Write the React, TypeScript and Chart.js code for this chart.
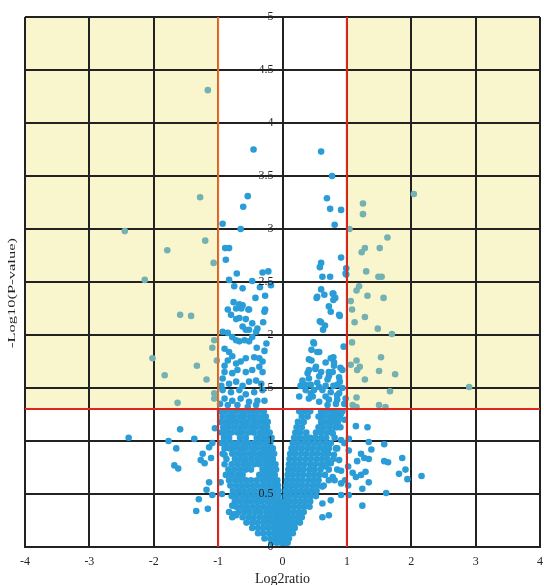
import React, { useEffect, useRef } from "react";
import { Chart, registerables } from "chart.js";

Chart.register(...registerables);

// ---- axis ticks / labels ----
const xTickValues = [-4, -3, -2, -1, 0, 1, 2, 3, 4];
const yTickValues = [0, 0.5, 1, 1.5, 2, 2.5, 3, 3.5, 4, 4.5, 5];
const xTitle = "Log2ratio";
const yTitle = "-Log10(P-value)";
const yLabelAnchor = -0.14; // y tick labels end just left of the x = 0 line

// ---- thresholds ----
const foldCutoffs = [-1, 1];
const pCutoff = 1.301;

// ---- significant genes (shaded zones) ----
const sigLeft: [number, number][] = [
  [-1.16, 4.31], [-1.28, 3.3], [-2.45, 2.98], [-1.2, 2.89], [-1.79, 2.8], [-1.07, 2.68],
  [-2.14, 2.52], [-1.59, 2.19], [-1.42, 2.18], [-1.06, 1.95], [-1.09, 1.88], [-2.02, 1.78],
  [-1.02, 1.76], [-1.33, 1.71], [-1.83, 1.62], [-1.18, 1.58], [-1.06, 1.45], [-1.06, 1.4],
  [-1.63, 1.36],
];
const sigRight: [number, number][] = [
  [2.04, 3.33], [1.25, 3.24], [1.25, 3.14], [1.04, 3.0], [1.63, 2.92], [1.28, 2.82],
  [1.51, 2.82], [1.23, 2.78], [1.3, 2.6], [1.49, 2.55], [1.54, 2.55], [1.19, 2.46],
  [1.15, 2.42], [1.32, 2.37], [1.57, 2.35], [1.06, 2.32], [1.08, 2.24], [1.28, 2.17],
  [1.12, 2.12], [1.48, 2.06], [1.7, 2.01], [1.08, 1.93], [1.53, 1.79], [1.15, 1.76],
  [1.06, 1.72], [1.2, 1.7], [1.16, 1.67], [1.5, 1.66], [1.75, 1.63], [1.28, 1.58],
  [2.9, 1.51], [1.67, 1.47], [1.15, 1.41], [1.09, 1.34], [1.5, 1.34], [1.6, 1.32],
  [1.15, 1.32],
];

// ---- non-significant genes, upper part ----
const upperLeft: [number, number][] = [
  [-0.45, 3.75], [-0.54, 3.31], [-0.61, 3.21], [-0.93, 3.05], [-0.65, 3.0], [-0.89, 2.82],
  [-0.83, 2.82], [-0.88, 2.71], [-0.71, 2.58], [-0.31, 2.59], [-0.83, 2.52], [-0.75, 2.46],
  [-0.62, 2.44], [-0.47, 2.51], [-0.18, 2.47], [-0.27, 2.37], [-0.76, 2.31], [-0.67, 2.29],
  [-0.85, 2.24], [-0.53, 2.24], [-0.27, 2.24], [-0.72, 2.15], [-0.57, 2.15], [-0.57, 2.05],
  [-0.62, 2.28], [-0.64, 2.25], [-0.72, 2.25], [-0.52, 2.24], [-0.28, 2.22], [-0.8, 2.19],
  [-0.67, 2.16], [-0.47, 2.11], [-0.62, 2.08], [-0.52, 2.05], [-0.41, 2.03], [-0.39, 2.06],
  [-0.93, 2.03], [-0.85, 2.02], [-0.78, 1.98], [-0.72, 1.95], [-0.67, 1.94], [-0.59, 1.95],
  [-0.52, 1.94], [-0.47, 1.98], [-0.9, 1.87], [-0.83, 1.84], [-0.78, 1.8], [-0.85, 1.76],
  [-0.9, 1.71], [-0.72, 1.73], [-0.65, 1.75], [-0.57, 1.78], [-0.44, 1.79], [-0.36, 1.78],
  [-0.31, 1.75], [-0.36, 1.7], [-0.31, 1.65], [-0.47, 1.67], [-0.57, 1.65], [-0.7, 1.67],
  [-0.78, 1.64], [-0.9, 1.65], [-0.93, 1.59], [-0.83, 1.54], [-0.72, 1.56], [-0.62, 1.52],
  [-0.52, 1.56], [-0.41, 1.57], [-0.33, 1.54], [-0.93, 1.48], [-0.8, 1.46], [-0.67, 1.48],
  [-0.57, 1.44], [-0.44, 1.46], [-0.31, 1.48], [-0.9, 1.4], [-0.78, 1.38], [-0.65, 1.4],
  [-0.52, 1.37], [-0.39, 1.38], [-0.28, 1.38], [-0.85, 1.34], [-0.7, 1.34], [-0.54, 1.32],
  [-0.41, 1.34], [-0.22, 2.6], [-0.35, 2.45], [-0.42, 2.35], [-0.3, 2.12], [-0.25, 1.92],
  [-0.4, 1.88], [-0.28, 1.85], [-0.95, 1.52], [-0.97, 1.35],
];
const upperRight: [number, number][] = [
  [0.6, 3.73], [0.77, 3.5], [0.69, 3.29], [0.74, 3.19], [0.91, 3.18], [0.81, 3.04],
  [0.91, 2.73], [0.6, 2.68], [0.58, 2.64], [0.99, 2.63], [0.99, 2.57], [0.62, 2.55],
  [0.74, 2.55], [0.6, 2.43], [0.98, 2.58], [0.53, 2.35], [0.79, 2.39], [0.82, 2.35],
  [0.79, 2.33], [0.72, 2.27], [0.75, 2.22], [0.89, 2.18], [0.58, 2.13], [0.66, 2.09],
  [0.63, 2.05], [0.48, 1.93], [0.45, 1.86], [0.57, 1.84], [0.95, 1.89], [0.41, 1.77],
  [0.45, 1.76], [0.79, 1.79], [0.8, 1.74], [0.9, 1.69], [0.93, 1.67], [0.51, 1.68],
  [0.6, 1.65], [0.72, 1.65], [0.72, 1.61], [0.39, 1.64], [0.41, 1.59], [0.31, 1.54],
  [0.28, 1.52], [0.36, 1.53], [0.57, 1.51], [0.79, 1.52], [0.89, 1.56], [0.93, 1.5],
  [0.44, 1.45], [0.47, 1.42], [0.67, 1.42], [0.85, 1.43], [0.57, 1.37], [0.7, 1.34],
  [0.83, 1.35], [0.96, 1.35], [0.54, 2.36], [0.65, 2.38], [0.78, 2.39], [0.88, 2.19],
  [0.6, 2.12], [0.49, 1.92], [0.54, 1.84], [0.67, 1.74], [0.52, 1.7], [0.41, 1.67],
  [0.75, 1.78], [0.8, 1.71], [0.78, 1.65], [0.88, 1.6], [0.57, 1.61], [0.7, 1.58],
  [0.31, 1.57], [0.44, 1.53], [0.54, 1.55], [0.67, 1.52], [0.85, 1.53], [0.36, 1.48],
  [0.49, 1.48], [0.62, 1.48], [0.75, 1.46], [0.88, 1.45], [0.26, 1.42], [0.41, 1.4],
  [0.72, 1.39], [0.85, 1.39], [0.98, 1.4],
];

// ---- dense core (rows: y, list of x) ----
const leftArmRows: [number, number[]][] = [
  [1.28, [-0.97, -0.89, -0.8, -0.72, -0.63, -0.55, -0.46, -0.38, -0.29]],
  [1.23, [-0.93, -0.84, -0.76, -0.67, -0.59, -0.5, -0.42, -0.33, -0.26]],
  [1.18, [-0.97, -0.88, -0.8, -0.71, -0.62, -0.54, -0.45, -0.37, -0.29, -0.23]],
  [1.13, [-0.92, -0.84, -0.75, -0.66, -0.58, -0.49, -0.41, -0.32, -0.24]],
  [1.08, [-0.95, -0.87, -0.79, -0.7, -0.62, -0.53, -0.45, -0.36, -0.28, -0.2]],
  [1.03, [-0.91, -0.83, -0.66, -0.57, -0.4, -0.32, -0.24, -0.17]],
  [0.98, [-0.95, -0.87, -0.78, -0.7, -0.61, -0.53, -0.44, -0.36, -0.27, -0.19]],
  [0.93, [-0.9, -0.82, -0.74, -0.65, -0.57, -0.48, -0.4, -0.31, -0.23, -0.15]],
  [0.88, [-0.93, -0.78, -0.69, -0.61, -0.52, -0.44, -0.35, -0.27, -0.19, -0.13]],
  [0.83, [-0.87, -0.74, -0.65, -0.57, -0.48, -0.39, -0.31, -0.23, -0.15]],
  [0.78, [-0.9, -0.79, -0.7, -0.61, -0.53, -0.44, -0.36, -0.27, -0.19, -0.11]],
  [0.73, [-0.84, -0.75, -0.66, -0.57, -0.49, -0.31, -0.23, -0.15, -0.1]],
  [0.68, [-0.88, -0.79, -0.7, -0.62, -0.36, -0.27, -0.19, -0.12]],
  [0.63, [-0.83, -0.74, -0.66, -0.57, -0.49, -0.4, -0.31, -0.23, -0.15, -0.08]],
  [0.58, [-0.81, -0.72, -0.63, -0.55, -0.46, -0.38, -0.29, -0.21, -0.13, -0.07]],
  [0.53, [-0.77, -0.68, -0.6, -0.51, -0.43, -0.34, -0.26, -0.18, -0.11, -0.06]],
  [0.48, [-0.79, -0.71, -0.62, -0.54, -0.45, -0.37, -0.28, -0.2, -0.13, -0.06]],
  [0.43, [-0.74, -0.66, -0.57, -0.49, -0.4, -0.32, -0.23, -0.15, -0.08, -0.04]],
  [0.38, [-0.72, -0.63, -0.55, -0.46, -0.38, -0.29, -0.21, -0.13, -0.07, -0.03]],
  [0.33, [-0.68, -0.59, -0.51, -0.42, -0.34, -0.25, -0.17, -0.1, -0.04]],
  [0.28, [-0.62, -0.53, -0.45, -0.36, -0.28, -0.2, -0.12, -0.06, -0.02]],
  [0.23, [-0.56, -0.47, -0.39, -0.3, -0.22, -0.14, -0.07, -0.02]],
  [0.18, [-0.47, -0.38, -0.3, -0.22, -0.14, -0.07, -0.02]],
  [0.13, [-0.38, -0.3, -0.21, -0.13, -0.06, -0.01]],
  [0.08, [-0.28, -0.19, -0.11, -0.04, 0.0]],
  [0.04, [-0.17, -0.09, -0.02, 0.03]],
];
const rightArmRows: [number, number[]][] = [
  [1.28, [0.26, 0.34, 0.43, 0.6, 0.68, 0.77, 0.85, 0.93]],
  [1.23, [0.3, 0.39, 0.56, 0.64, 0.73, 0.81, 0.89]],
  [1.18, [0.24, 0.33, 0.6, 0.69, 0.77, 0.86]],
  [1.13, [0.22, 0.3, 0.56, 0.64, 0.73, 0.82, 0.9]],
  [1.08, [0.2, 0.28, 0.37, 0.52, 0.6, 0.69, 0.77]],
  [1.03, [0.18, 0.26, 0.35, 0.43, 0.51, 0.6, 0.68, 0.81]],
  [0.98, [0.16, 0.24, 0.33, 0.41, 0.5, 0.58, 0.67, 0.75]],
  [0.93, [0.14, 0.22, 0.3, 0.39, 0.47, 0.56, 0.64, 0.72, 0.83]],
  [0.88, [0.12, 0.2, 0.29, 0.37, 0.46, 0.54, 0.63, 0.71]],
  [0.83, [0.11, 0.19, 0.27, 0.36, 0.44, 0.53, 0.61, 0.69, 0.79]],
  [0.78, [0.1, 0.18, 0.26, 0.34, 0.43, 0.51, 0.6, 0.68]],
  [0.73, [0.09, 0.17, 0.25, 0.33, 0.42, 0.5, 0.59, 0.72, 0.85]],
  [0.68, [0.08, 0.16, 0.24, 0.32, 0.41, 0.49, 0.57, 0.66]],
  [0.63, [0.07, 0.15, 0.23, 0.31, 0.4, 0.48, 0.56, 0.81, 0.97]],
  [0.58, [0.06, 0.14, 0.22, 0.3, 0.38, 0.47, 0.55, 0.64]],
  [0.53, [0.05, 0.13, 0.21, 0.29, 0.37, 0.45, 0.53]],
  [0.48, [0.05, 0.12, 0.2, 0.28, 0.36, 0.44, 0.52]],
  [0.43, [0.04, 0.11, 0.19, 0.27, 0.35, 0.43]],
  [0.38, [0.04, 0.1, 0.18, 0.26, 0.34, 0.42]],
  [0.33, [0.03, 0.09, 0.17, 0.25, 0.33]],
  [0.28, [0.03, 0.08, 0.15, 0.23, 0.3]],
  [0.23, [0.03, 0.07, 0.14, 0.21, 0.27]],
  [0.18, [0.02, 0.06, 0.12, 0.19]],
  [0.13, [0.02, 0.05, 0.11, 0.16]],
  [0.08, [0.02, 0.05, 0.1]],
  [0.04, [0.04, 0.08]],
];

// ---- scattered genes below the p cutoff ----
const lowerScatter: [number, number][] = [
  [0.91, 1.26], [0.96, 1.2], [0.85, 1.13], [0.78, 1.07], [0.91, 1.01], [0.96, 0.98],
  [0.72, 0.96], [0.85, 0.93], [0.7, 0.9], [0.8, 0.87], [0.88, 0.82], [0.75, 0.79],
  [0.91, 0.72], [0.67, 0.76], [0.78, 0.66], [0.91, 0.6], [0.72, 0.63], [0.62, 0.57],
  [0.91, 0.49], [0.75, 0.44], [0.62, 0.41], [0.72, 0.3], [0.62, 0.28],
  [-0.9, 0.87], [-0.83, 0.69], [-0.96, 0.61], [-0.94, 0.5], [-0.78, 0.39], [-0.83, 0.33],
  [-0.72, 0.3], [-0.78, 0.28], [-0.75, 0.31],
];
const outlierLeft: [number, number][] = [
  [-2.39, 1.03], [-1.59, 1.11], [-1.77, 1.0], [-1.65, 0.93], [-1.37, 1.02], [-1.68, 0.77],
  [-1.62, 0.74], [-1.24, 0.88], [-1.27, 0.82], [-1.21, 0.79], [-1.11, 0.84], [-1.14, 0.94],
  [-1.14, 0.61], [-1.18, 0.54], [-1.09, 0.49], [-1.3, 0.45], [-1.34, 0.34], [-1.16, 0.36],
  [-1.09, 0.98], [-1.05, 1.12],
];
const outlierRight: [number, number][] = [
  [1.14, 1.14], [1.32, 1.13], [1.34, 0.99], [1.58, 0.97], [1.38, 0.92], [1.03, 0.91],
  [1.22, 0.88], [1.27, 0.84], [1.34, 0.83], [1.16, 0.81], [1.58, 0.81], [1.64, 0.8],
  [1.86, 0.84], [1.91, 0.73], [1.81, 0.69], [1.94, 0.64], [2.16, 0.67], [1.09, 0.7],
  [1.14, 0.66], [1.22, 0.68], [1.29, 0.71], [1.34, 0.61], [1.02, 0.58], [1.03, 0.49],
  [1.24, 0.55], [1.61, 0.51], [1.24, 0.39], [1.03, 1.02], [1.02, 0.76],
];

// ---- styling ----
const BLUE = "#2a9dd8";
const TEAL = "#74b1b3";
const YELLOW = "#f9f6cd";
const GRID = "#222222";
const RED = "#e2261d";
const ORANGE = "#e8702a";
const FONT = '"Liberation Serif", "Times New Roman", serif';

const toPts = (arr: [number, number][]) => arr.map(([x, y]) => ({ x, y }));
const rowsToPts = (rows: [number, number[]][]) =>
  rows.flatMap(([y, xs]) => xs.map((x) => ({ x, y })));

const volcanoPlugin = {
  id: "volcanoDecor",
  beforeDraw(chart: any) {
    const { ctx, chartArea: a, scales } = chart;
    const x = scales.x;
    const y = scales.y;
    const yT = y.getPixelForValue(pCutoff);
    const xl = x.getPixelForValue(foldCutoffs[0]);
    const xr = x.getPixelForValue(foldCutoffs[1]);
    ctx.save();
    ctx.fillStyle = YELLOW;
    ctx.fillRect(a.left, a.top, xl - a.left, yT - a.top);
    ctx.fillRect(xr, a.top, a.right - xr, yT - a.top);
    ctx.restore();
  },
  afterDatasetsDraw(chart: any) {
    const { ctx, chartArea: a, scales } = chart;
    const x = scales.x;
    const y = scales.y;
    const yT = y.getPixelForValue(pCutoff);
    ctx.save();
    ctx.lineWidth = 2;
    foldCutoffs.forEach((v, i) => {
      const px = x.getPixelForValue(v);
      ctx.strokeStyle = i === 0 ? ORANGE : RED;
      ctx.beginPath();
      ctx.moveTo(px, a.top);
      ctx.lineTo(px, yT);
      ctx.stroke();
      ctx.strokeStyle = RED;
      ctx.beginPath();
      ctx.moveTo(px, yT);
      ctx.lineTo(px, a.bottom);
      ctx.stroke();
    });
    ctx.strokeStyle = RED;
    ctx.beginPath();
    ctx.moveTo(a.left, yT);
    ctx.lineTo(a.right, yT);
    ctx.stroke();
    ctx.restore();
  },
  afterDraw(chart: any) {
    const { ctx, chartArea: a } = chart;
    ctx.save();
    ctx.font = `11px ${FONT}`;
    const w = ctx.measureText(yTitle).width;
    ctx.translate(12.5, (a.top + a.bottom) / 2 + 11);
    ctx.rotate(-Math.PI / 2);
    ctx.scale(110 / w, 1);
    ctx.textAlign = "center";
    ctx.textBaseline = "middle";
    ctx.fillStyle = GRID;
    ctx.fillText(yTitle, 0, 0);
    ctx.restore();
  },
};

export default function App() {
  const ref = useRef<HTMLCanvasElement | null>(null);

  useEffect(() => {
    if (!ref.current) return;
    const blue = [
      ...toPts(upperLeft),
      ...toPts(upperRight),
      ...rowsToPts(leftArmRows),
      ...rowsToPts(rightArmRows),
      ...toPts(lowerScatter),
      ...toPts(outlierLeft),
      ...toPts(outlierRight),
    ];
    const teal = [...toPts(sigLeft), ...toPts(sigRight)];
    const chart = new Chart(ref.current, {
      type: "scatter",
      data: {
        datasets: [
          { label: "other", data: blue, backgroundColor: BLUE, pointRadius: 3.3, borderWidth: 0 },
          { label: "significant", data: teal, backgroundColor: TEAL, pointRadius: 3.3, borderWidth: 0 },
        ],
      },
      options: {
        responsive: false,
        animation: false,
        devicePixelRatio: 1,
        events: [],
        layout: { padding: { left: 25, right: 3, top: 17, bottom: 0 } },
        plugins: { legend: { display: false }, tooltip: { enabled: false } },
        scales: {
          x: {
            type: "linear",
            min: -4,
            max: 4,
            afterBuildTicks: (s: any) => {
              s.ticks = xTickValues.map((v) => ({ value: v }));
            },
            afterFit: (s: any) => {
              s.height = 38;
              s.paddingLeft = 0;
              s.paddingRight = 0;
            },
            grid: { color: GRID, lineWidth: 2, drawTicks: false },
            border: { color: GRID, width: 2 },
            ticks: {
              font: { family: FONT, size: 12 },
              color: GRID,
              padding: 8,
              maxRotation: 0,
              autoSkip: false,
              callback: (v: any) => String(v),
            },
            title: {
              display: true,
              text: xTitle,
              font: { family: FONT, size: 14 },
              color: GRID,
              padding: { top: 0, bottom: -3 },
            },
          },
          y: {
            type: "linear",
            min: 0,
            max: 5,
            position: { x: yLabelAnchor } as any,
            afterBuildTicks: (s: any) => {
              s.ticks = yTickValues.map((v) => ({ value: v }));
            },
            afterFit: (s: any) => {
              s.paddingTop = 0;
              s.paddingBottom = 0;
            },
            grid: { color: GRID, lineWidth: 2, drawTicks: false },
            border: { display: false },
            ticks: {
              font: { family: FONT, size: 12 },
              color: GRID,
              padding: 0,
              z: 1,
              autoSkip: false,
              callback: (v: any) => String(v),
            },
          },
        },
      },
      plugins: [volcanoPlugin],
    });
    return () => chart.destroy();
  }, []);

  return (
    <div style={{ position: "fixed", left: 0, top: 0, width: 544, height: 585, background: "#fff" }}>
      <canvas ref={ref} width={544} height={585} style={{ display: "block" }} />
    </div>
  );
}
